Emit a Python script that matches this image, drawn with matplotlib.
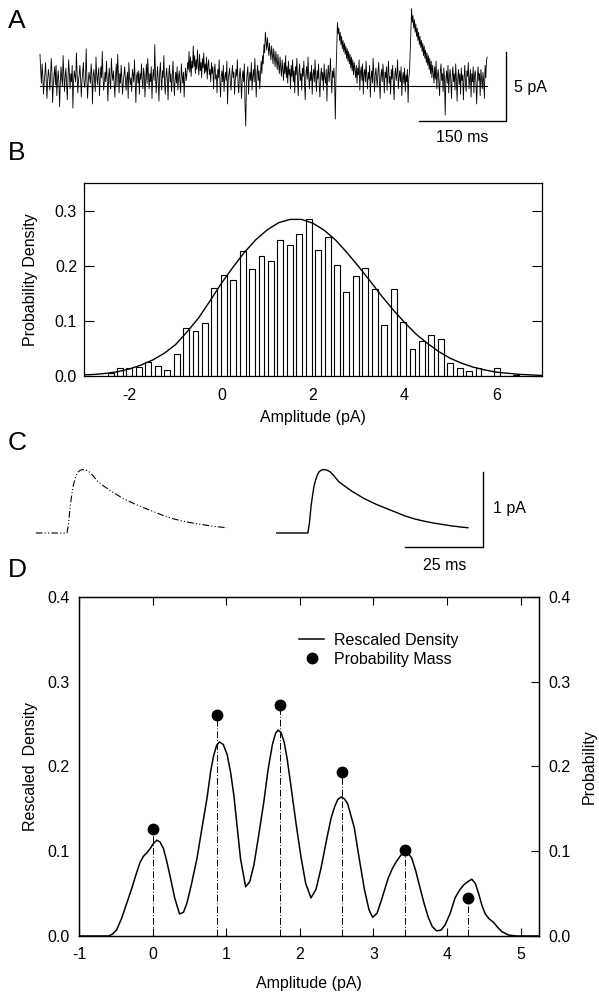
import matplotlib
matplotlib.use("Agg")
import matplotlib.pyplot as plt
import numpy as np
from matplotlib.lines import Line2D

plt.rcParams["font.family"] = ["Liberation Sans", "DejaVu Sans"]
plt.rcParams["font.size"] = 11.5
plt.rcParams["axes.unicode_minus"] = False
plt.rcParams["axes.linewidth"] = 0.9

W, H = 599, 994

# ---- panel A: current trace (pA above baseline), evenly sampled over the sweep
sweep_ms = 771
trace_a = [
    2.3, 1.1, 0.2, 1.6, 0.8, -0.6, 0.3, 0.9, 1.7, 0.2, -0.9, 0.5, 1.2, 0.7, -0.3, 0.6, 2.0, 1.1, -1.2, 0.0,
    0.8, 1.4, 0.1, 1.5, -0.7, 0.4, 1.1, 0.3, -1.5, 0.2, 1.4, 0.6, 0.0, 2.2, 0.9, -0.4, 0.7, 1.3, 0.2, -1.0,
    0.6, 1.9, 0.8, -0.2, 0.9, 0.3, 1.5, -1.6, 0.4, 1.1, 0.7, 0.3, 2.4, 1.0, -0.5, 0.4, 0.8, 1.5, 0.6, -0.8,
    0.4, 1.0, 1.7, 0.2, -0.1, 0.6, 2.7, 0.5, -0.9, 0.3, 1.0, 0.6, 0.2, 1.6, 0.9, -1.3, 0.7, 1.2, 0.4, -0.4,
    2.1, 0.8, 0.1, 0.9, 1.3, -0.7, 0.5, 1.4, 0.6, 2.5, 0.7, -0.3, 0.4, 1.0, 0.3, 1.8, 0.5, -1.1, 0.6, 1.3,
    0.2, -0.2, 2.0, 0.9, 0.4, 1.1, 0.2, -0.8, 0.7, 1.6, 0.0, 2.3, 0.8, -0.5, 0.9, 0.2, 1.5, 0.6, -0.6, 0.3,
    0.8, 1.4, 0.5, -0.3, 0.5, 1.0, -0.9, 1.7, 0.6, 0.1, 0.6, -0.4, 1.2, 0.8, 0.3, 1.9, 0.4, -1.2, 0.7, 1.0,
    0.2, 1.1, -0.6, 0.9, 0.5, 1.6, 0.4, -0.2, 1.3, 0.8, -0.8, 0.5, 1.6, 0.2, 2.0, 0.7, -0.2, 0.9, 0.3, 1.4,
    -0.9, 0.6, 1.2, 0.4, 3.0, 0.8, -0.5, 0.6, 1.4, 0.3, -1.1, 0.9, 1.7, 0.5, -0.3, 1.1, 0.6, 2.2, 0.2, -0.6,
    0.7, 1.3, 0.4, -1.0, 0.8, 1.5, 0.3, 0.9, -0.4, 0.5, 1.8, 0.6, -0.7, 0.4, 1.0, 0.2, 1.4, -0.3, 0.6, 1.1,
    0.3, -0.5, 1.6, 0.8, 0.2, 1.0, -0.8, 0.6, 1.3, 0.4, 0.9, 1.7, 1.2, 2.5, 1.0, 2.1, 0.7, 1.8, 1.3, 2.9,
    1.4, 2.2, 0.9, 1.9, 1.2, 2.6, 1.5, 0.8, 2.3, 1.1, 1.7, 0.6, 2.0, 1.3, 2.4, 0.9, 1.6, 1.0, 2.1, 0.5,
    1.5, 1.9, 0.8, 1.2, 0.3, 1.7, 0.9, 1.4, -0.2, 1.0, 1.6, 0.5, 0.8, -0.5, 1.2, 0.6, 1.9, 0.4, -0.8, 0.7,
    1.1, 0.3, 1.5, -0.4, 0.6, 1.0, 0.4, 1.8, -1.3, 0.5, 0.9, 1.3, 0.2, -0.3, 0.8, 1.5, 0.6, 1.0, -0.6, 0.4,
    1.2, 0.7, 1.9, 0.1, -0.5, 0.8, 1.3, 0.4, -0.9, 0.6, 1.1, 0.3, 1.6, -1.4, -2.9, 0.2, 0.9, 1.4, -0.6, 0.5,
    1.0, 0.4, 1.7, -0.3, 0.7, 1.2, 0.3, 2.0, 0.6, -0.8, 0.9, 1.5, 0.4, 1.1, -0.2, 0.8, 1.8, 0.9, 2.2, 1.6,
    3.0, 2.4, 3.9, 3.2, 2.6, 3.5, 2.8, 2.2, 3.1, 2.5, 1.9, 2.9, 2.3, 1.6, 2.7, 2.0, 1.4, 2.5, 1.8, 1.2,
    2.3, 1.5, 0.9, 2.1, 1.3, 0.7, 1.9, 1.1, 0.4, 1.7, 0.9, 2.2, 0.6, 1.4, 0.2, 1.8, 0.8, 1.2, -0.2, 1.5,
    0.7, 1.9, 0.3, 1.1, -0.5, 1.4, 0.8, 2.0, 0.5, -0.7, 1.0, 1.6, 0.4, 0.9, -0.3, 1.3, 0.7, 1.8, 0.2, -1.0,
    0.9, 1.4, 0.5, 2.1, 0.6, -0.2, 1.0, 0.4, 1.5, -0.6, 0.8, 1.2, 0.3, 1.9, 0.6, -0.4, 1.1, 0.5, 1.6, 0.1,
    -0.8, 0.7, 1.3, 0.4, 1.0, -0.3, 1.6, 0.6, 0.2, 1.2, -1.1, 0.8, 1.5, 0.3, 0.9, 2.0, 0.5, -0.5, 1.1, 0.6,
    1.3, 0.2, -2.4, 0.9, 2.6, 4.6, 3.8, 4.2, 3.3, 3.9, 3.0, 3.6, 2.7, 3.3, 2.5, 3.1, 2.3, 2.9, 2.0, 2.7,
    1.8, 2.5, 1.6, 2.3, 1.3, 2.1, 1.1, 1.9, 0.8, 1.7, 1.2, 0.6, 1.5, 0.2, 1.3, 0.8, 1.9, -0.3, 1.0, 1.4,
    0.4, 1.6, -0.6, 0.9, 1.2, 0.3, 1.8, 0.7, -0.2, 1.0, 0.5, 1.5, -0.8, 0.6, 1.1, 0.2, 2.0, 0.9, -0.4, 0.8,
    1.3, 0.5, -0.1, 1.1, 1.7, 0.4, -0.9, 0.7, 1.2, 0.3, 1.6, 0.8, -0.5, 1.0, 0.6, 1.4, -0.3, 0.9, 1.8, 0.2,
    0.7, -0.6, 1.2, 0.5, 1.5, 0.1, -1.0, 0.8, 1.3, 0.4, 0.9, 1.9, -0.2, 0.6, 1.1, 0.3, 1.4, -0.7, 0.5, 1.0,
    0.2, 1.3, -0.4, 0.8, 0.3, 1.2, -1.2, 0.6, 1.0, 2.4, 4.0, 5.6, 4.6, 5.1, 4.2, 4.8, 3.9, 4.5, 3.6, 4.2,
    3.3, 3.9, 3.0, 3.6, 2.8, 3.3, 2.5, 3.1, 2.2, 2.9, 2.0, 2.6, 1.7, 2.4, 1.5, 2.2, 1.2, 2.0, 0.9, 1.8,
    0.6, 1.5, 0.9, 0.2, 1.4, 0.5, 1.8, -0.2, 0.8, 1.2, 0.3, -0.7, 1.0, 1.6, 0.4, 0.9, -0.4, 1.3, 0.6, -2.1,
    0.5, 1.1, 0.2, 1.5, -0.5, 0.7, 1.2, 0.4, -0.9, 0.8, 1.4, 0.3, 0.9, -0.3, 1.6, 0.5, -1.1, 0.6, 1.2, 0.1,
    0.9, -0.6, 1.3, 0.4, 0.8, -1.0, 0.6, 1.5, 0.2, -0.4, 1.1, 0.7, 1.7, -0.2, 0.5, 1.2, -0.8, 0.9, 0.3, 1.4,
    -0.5, 0.8, 1.1, 0.2, -1.3, 0.6, 1.4, 0.4, 0.9, -0.7, 1.2, 0.5, -0.2, 1.0, 0.3, -0.9, 1.5, 0.6, 1.8, 2.1,
]

# ---- panel B: amplitude histogram and gaussian fit
bin_first = -2.42
bin_step = 0.206
hist_density = [
    0.005, 0.0145, 0.0145, 0.016, 0.025, 0.019, 0.010, 0.039, 0.087, 0.082,
    0.096, 0.160, 0.184, 0.175, 0.227, 0.194, 0.218, 0.208, 0.246, 0.237,
    0.257, 0.285, 0.229, 0.252, 0.201, 0.152, 0.182, 0.196, 0.157, 0.093,
    0.157, 0.098, 0.049, 0.063, 0.074, 0.068, 0.024, 0.015, 0.009, 0.014,
    0.0, 0.015, 0.0, 0.002,
]
fit_x = [-3, -2.75, -2.5, -2.25, -2, -1.75, -1.5, -1.25, -1, -0.75, -0.5, -0.25, 0, 0.25,
         0.5, 0.75, 1, 1.25, 1.5, 1.75, 2, 2.25, 2.5, 2.75, 3, 3.25, 3.5, 3.75, 4, 4.25,
         4.5, 4.75, 5, 5.25, 5.5, 5.75, 6, 6.25, 6.5, 6.75, 7]
fit_y = [0.002, 0.003, 0.005, 0.008, 0.013, 0.020, 0.029, 0.041, 0.057, 0.080, 0.105, 0.136,
         0.168, 0.197, 0.224, 0.247, 0.265, 0.278, 0.284, 0.284, 0.277, 0.264, 0.246, 0.223,
         0.198, 0.172, 0.145, 0.120, 0.097, 0.076, 0.059, 0.044, 0.032, 0.023, 0.016, 0.011,
         0.007, 0.005, 0.003, 0.002, 0.001]

# ---- panel C: mean quantal event (ms after onset, pA)
epsc_t = [-10, 0, 0.5, 1, 1.5, 2, 2.5, 3, 3.5, 4, 4.5, 5, 5.5, 6, 7, 8, 9, 10, 12, 14,
          16, 18, 20, 22, 25, 28, 31, 34, 37, 40, 43, 46, 49, 51.3]
epsc_pA = [0, 0, 0.13, 0.35, 0.50, 0.63, 0.71, 0.77, 0.81, 0.83, 0.84, 0.845, 0.845, 0.84,
           0.82, 0.78, 0.73, 0.68, 0.62, 0.56, 0.51, 0.46, 0.42, 0.38, 0.33, 0.28, 0.23,
           0.19, 0.16, 0.135, 0.115, 0.095, 0.08, 0.07]
right_onset_ms = 77.2

# ---- panel D: deconvolved density and probability mass
dens_x = [-1.0, -0.6, -0.55, -0.49, -0.42, -0.35, -0.28, -0.22, -0.17, -0.125, -0.08, -0.034,
          0.01, 0.057, 0.10, 0.148, 0.19, 0.239, 0.30, 0.366, 0.42, 0.467, 0.53, 0.604, 0.67,
          0.74, 0.79, 0.83, 0.87, 0.908, 0.96, 1.013, 1.06, 1.104, 1.15, 1.195, 1.264, 1.32,
          1.377, 1.44, 1.514, 1.57, 1.628, 1.67, 1.705, 1.745, 1.787, 1.83, 1.878, 1.95, 2.015,
          2.08, 2.152, 2.22, 2.288, 2.36, 2.425, 2.475, 2.516, 2.56, 2.605, 2.65, 2.74, 2.81,
          2.88, 2.94, 2.99, 3.05, 3.108, 3.20, 3.26, 3.313, 3.37, 3.426, 3.47, 3.52, 3.575,
          3.63, 3.69, 3.746, 3.80, 3.86, 3.92, 3.973, 4.04, 4.11, 4.17, 4.224, 4.28, 4.337,
          4.385, 4.43, 4.475, 4.52, 4.575, 4.634, 4.69, 4.747, 4.84, 4.95, 5.25]
dens_y = [0, 0, 0.002, 0.007, 0.021, 0.039, 0.057, 0.074, 0.087, 0.094, 0.098, 0.103,
          0.109, 0.113, 0.111, 0.103, 0.089, 0.070, 0.045, 0.026, 0.028, 0.039, 0.062, 0.092,
          0.127, 0.163, 0.195, 0.213, 0.225, 0.229, 0.226, 0.214, 0.193, 0.166, 0.128, 0.091,
          0.058, 0.064, 0.084, 0.118, 0.160, 0.197, 0.226, 0.239, 0.243, 0.240, 0.229, 0.208,
          0.178, 0.132, 0.094, 0.062, 0.045, 0.055, 0.080, 0.112, 0.139, 0.153, 0.161, 0.164,
          0.162, 0.156, 0.128, 0.090, 0.054, 0.031, 0.022, 0.027, 0.042, 0.068, 0.080, 0.088,
          0.095, 0.100, 0.098, 0.092, 0.077, 0.058, 0.038, 0.022, 0.011, 0.006, 0.007, 0.013,
          0.026, 0.045, 0.054, 0.060, 0.064, 0.067, 0.062, 0.050, 0.036, 0.026, 0.020, 0.016,
          0.010, 0.005, 0.001, 0, 0]
mass_amp = [0.01, 0.87, 1.73, 2.58, 3.43, 4.28]
mass_prob = [0.126, 0.261, 0.273, 0.193, 0.102, 0.045]


def px_axes(fig, left, top, right, bottom):
    return fig.add_axes([left / W, 1 - bottom / H, (right - left) / W, (bottom - top) / H])


fig = plt.figure(figsize=(W / 100, H / 100), dpi=100)

for lab, ybase in [("A", 28), ("B", 160), ("C", 450), ("D", 577)]:
    fig.text(8 / W, 1 - ybase / H, lab, fontsize=19, va="baseline", ha="left")

# A
axA = px_axes(fig, 0, 0, W, 160)
axA.axis("off")
ms_per_px = 150 / 87
px_per_pA = 13.8
axA.set_xlim(-40 * ms_per_px, (W - 40) * ms_per_px)
axA.set_ylim(-(160 - 86) / px_per_pA, 86 / px_per_pA)
t_a = np.linspace(0, sweep_ms, len(trace_a))
axA.plot(t_a, trace_a, color="black", lw=0.6)
axA.plot([t_a[0], t_a[-1]], [0, 0], color="black", lw=0.8)
bar_x, bar_y = 803, -2.55
axA.plot([bar_x - 150, bar_x, bar_x], [bar_y, bar_y, bar_y + 5], color="black", lw=1.0)
axA.text(bar_x + 14, bar_y + 2.45, "5 pA", ha="left", va="center")
axA.text(bar_x - 75, bar_y - 1.15, "150 ms", ha="center", va="center")

# B
axB = px_axes(fig, 84, 183, 542, 376)
centers = bin_first + bin_step * np.arange(len(hist_density))
axB.bar(centers, hist_density, width=0.13, color="white", edgecolor="black", lw=0.8)
axB.plot(fit_x, fit_y, color="black", lw=1.0)
axB.set_xlim(-3, 7)
axB.set_ylim(0, 0.35)
axB.set_xticks([-2, 0, 2, 4, 6])
axB.set_yticks([0, 0.1, 0.2, 0.3])
axB.set_yticklabels(["0.0", "0.1", "0.2", "0.3"])
axB.tick_params(axis="y", direction="in", length=7, width=0.8, left=True, right=True, pad=5)
axB.tick_params(axis="x", length=0, pad=9)
axB.set_xlabel("Amplitude (pA)")
axB.set_ylabel("Probability Density")
axB.xaxis.set_label_coords(0.5, -0.176)
axB.yaxis.set_label_coords(-0.100, 0.5)

# C
axC = px_axes(fig, 0, 420, W, 580)
axC.axis("off")
px_per_ms = 3.12
px_per_pAc = 75
axC.set_xlim(-67 / px_per_ms, (W - 67) / px_per_ms)
axC.set_ylim(-(580 - 533) / px_per_pAc, (533 - 420) / px_per_pAc)
axC.plot(epsc_t, epsc_pA, color="black", lw=0.8, ls=(0, (6, 2, 1, 2, 1, 2)))
axC.plot(np.array(epsc_t) + right_onset_ms, epsc_pA, color="black", lw=1.0)
cb_x, cb_y = 133.3, -0.187
axC.plot([cb_x - 25, cb_x, cb_x], [cb_y, cb_y, cb_y + 1], color="black", lw=1.0)
axC.text(cb_x + 3.2, cb_y + 0.51, "1 pA", ha="left", va="center")
axC.text(cb_x - 12.1, cb_y - 0.24, "25 ms", ha="center", va="center")

# D
axD = px_axes(fig, 79, 597, 539, 936)
axD.plot(dens_x, dens_y, color="black", lw=1.1)
axD.set_xlim(-1, 5.25)
axD.set_ylim(0, 0.4)
axD.set_xticks(range(-1, 6))
axD.set_yticks([0, 0.1, 0.2, 0.3, 0.4])
axD.set_yticklabels(["0.0", "0.1", "0.2", "0.3", "0.4"])
axD.tick_params(axis="x", direction="in", length=6, width=0.8, top=True, pad=8)
axD.tick_params(axis="y", length=0, pad=7)
axD.set_xlabel("Amplitude (pA)")
axD.set_ylabel("Rescaled  Density")
axD.xaxis.set_label_coords(0.5, -0.118)
axD.yaxis.set_label_coords(-0.089, 0.5)

axP = axD.twinx()
axP.vlines(mass_amp, 0, mass_prob, colors="black", lw=0.7, linestyles=[(0, (7, 2, 1, 2))])
axP.plot(mass_amp, mass_prob, "o", color="black", ms=7.5)
axP.set_ylim(0, 0.4)
axP.set_yticks([0, 0.1, 0.2, 0.3, 0.4])
axP.set_yticklabels(["0.0", "0.1", "0.2", "0.3", "0.4"])
axP.tick_params(axis="y", direction="in", length=6, width=0.8, pad=7)
axP.set_ylabel("Probability")
axP.yaxis.set_label_coords(1.0935, 0.5)

handles = [Line2D([], [], color="black", lw=1.1),
           Line2D([], [], color="black", marker="o", ls="none", ms=7.5)]
axP.legend(handles, ["Rescaled Density", "Probability Mass"], loc="upper left",
           bbox_to_anchor=(0.478, 0.894), frameon=False, handlelength=1.6,
           handletextpad=0.6, borderpad=0, borderaxespad=0, labelspacing=0.25)

fig.savefig("out.png", dpi=100)
